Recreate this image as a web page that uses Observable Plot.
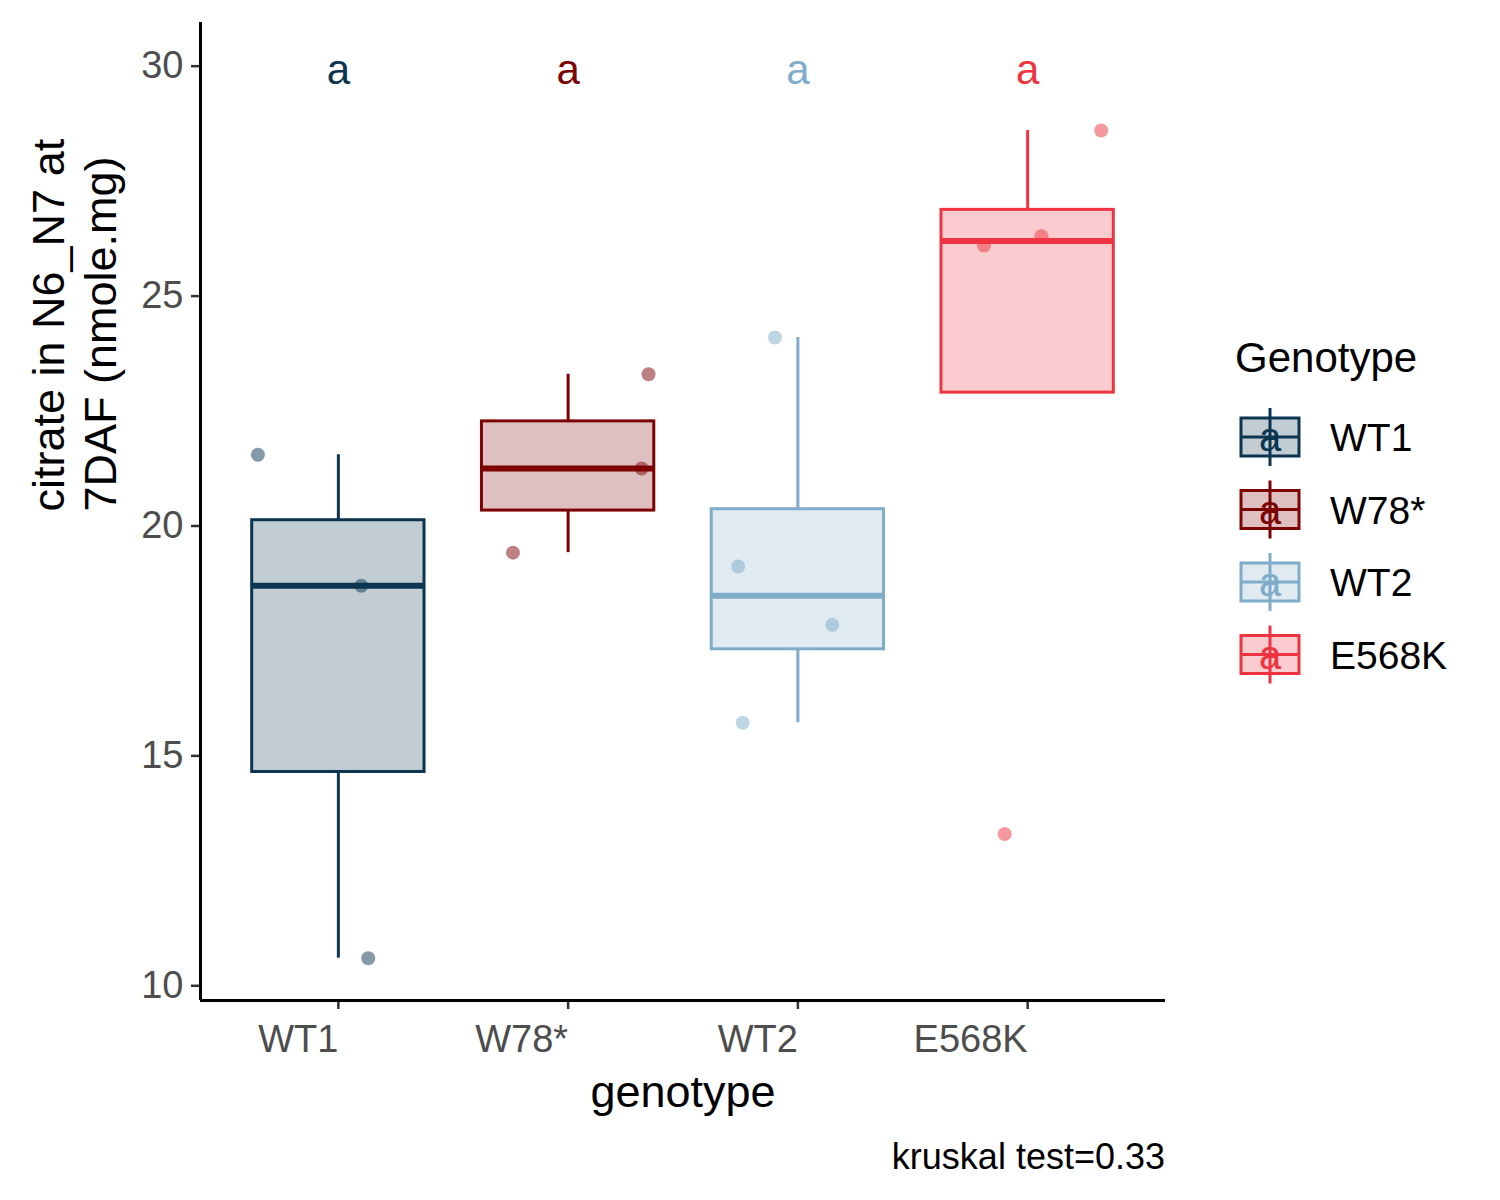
<!DOCTYPE html>
<html><head><meta charset="utf-8">
<script src="https://cdn.jsdelivr.net/npm/d3@7"></script>
<script src="https://cdn.jsdelivr.net/npm/@observablehq/plot@0.6"></script>
<style>
body{margin:0;background:#fff;font-family:Arial,"Liberation Sans",sans-serif;}
#wrap{position:relative;width:1500px;height:1200px;}
#cap{position:absolute;left:0;width:1165px;text-align:right;top:1136px;font-size:36px;color:#000;}
#leg{position:absolute;left:1235px;top:330px;}
</style></head><body>
<div id="wrap"><div id="chart"></div><div id="leg"></div><div id="cap">kruskal test=0.33</div></div>
<script>
const genotypes = ["WT1","W78*","WT2","E568K"];
const colors = ["#0b3551","#7d0303","#7eacc9","#ee3440"];
const groupValues = [
  [21.55,18.7,10.6],
  [19.42,23.3,21.25],
  [19.12,15.72,24.1,17.85],
  [26.1,26.3,28.6,13.3]
];
const jitter = [
  [-0.35,0.1,0.13],
  [-0.24,0.35,0.32],
  [-0.26,-0.24,-0.1,0.15],
  [-0.19,0.06,0.32,-0.1]
];
const letters = ["a","a","a","a"];
const letterY = 29.9;
const yTicks = [10,15,20,25,30];

const pts = [];
groupValues.forEach((vs,i)=>vs.forEach((v,j)=>pts.push({g:genotypes[i],i,x:i+jitter[i][j],y:v})));
const stats = groupValues.map((vs,i)=>{
  const s=[...vs].sort(d3.ascending);
  const q1=d3.quantile(s,0.25),q2=d3.quantile(s,0.5),q3=d3.quantile(s,0.75),iqr=q3-q1;
  const lo=Math.min(q1,d3.min(s.filter(v=>v>=q1-1.5*iqr))),hi=Math.max(q3,d3.max(s.filter(v=>v<=q3+1.5*iqr)));
  return {g:genotypes[i],i,x1:i-0.375,x2:i+0.375,q1,q2,q3,lo,hi};
});
const cmap = Object.fromEntries(genotypes.map((g,i)=>[g,colors[i]]));

const plot = Plot.plot({
  width:1500,height:1200,
  marginLeft:200,marginRight:335,marginTop:22,marginBottom:200,
  style:{fontSize:"38px",fontFamily:"Arial, 'Liberation Sans', sans-serif",color:"#4d4d4d",background:"#fff"},
  x:{domain:[-0.6,3.6],ticks:[0,1,2,3],tickFormat:d=>genotypes[d],label:null},
  y:{domain:[9.68,30.95],ticks:yTicks,label:null},
  marks:[
    Plot.axisX({ticks:[0,1,2,3],tickFormat:d=>genotypes[d],tickSize:9,tickPadding:16,textAnchor:"end",stroke:"#333",strokeWidth:2.5,fill:"#4d4d4d",fontSize:38}),
    Plot.axisY({ticks:yTicks,tickSize:9,tickPadding:8,stroke:"#333",strokeWidth:2.5,fill:"#4d4d4d",fontSize:38}),
    Plot.ruleX([-0.6],{stroke:"#000",strokeWidth:3}),
    Plot.ruleY([9.68],{stroke:"#000",strokeWidth:3}),
    Plot.ruleX(stats,{x:"i",y1:"lo",y2:"q1",stroke:d=>cmap[d.g],strokeWidth:3}),
    Plot.ruleX(stats,{x:"i",y1:"q3",y2:"hi",stroke:d=>cmap[d.g],strokeWidth:3}),
    Plot.rect(stats,{x1:"x1",x2:"x2",y1:"q1",y2:"q3",fill:d=>cmap[d.g],fillOpacity:0.25,stroke:d=>cmap[d.g],strokeWidth:3}),
    Plot.ruleY(stats,{x1:"x1",x2:"x2",y:"q2",stroke:d=>cmap[d.g],strokeWidth:6}),
    Plot.dot(pts,{x:"x",y:"y",r:7,fill:d=>cmap[d.g],fillOpacity:0.5,stroke:"none"}),
    Plot.text(stats,{x:"i",y:()=>letterY,text:d=>letters[d.i],fill:d=>cmap[d.g],fontSize:42}),
    Plot.text(["citrate in N6_N7 at\n7DAF (nmole.mg)"],{frameAnchor:"left",dx:-127,rotate:-90,fontSize:45,fill:"#000",lineAnchor:"middle",lineHeight:1.15}),
    Plot.text(["genotype"],{frameAnchor:"bottom",dy:106,fontSize:45,fill:"#000"})
  ]
});
document.getElementById("chart").append(plot);

const leg = d3.select("#leg").append("svg").attr("width",260).attr("height",360)
  .style("font-family","Arial, 'Liberation Sans', sans-serif");
leg.append("text").attr("x",0).attr("y",42).attr("font-size",42).text("Genotype");
genotypes.forEach((g,i)=>{
  const cy=107+i*72.5, c=colors[i], gg=leg.append("g");
  gg.append("line").attr("x1",35).attr("x2",35).attr("y1",cy-29).attr("y2",cy+29).attr("stroke",c).attr("stroke-width",3);
  gg.append("rect").attr("x",6).attr("y",cy-19).attr("width",58).attr("height",38).attr("fill",c).attr("fill-opacity",0.25).attr("stroke",c).attr("stroke-width",3);
  gg.append("line").attr("x1",6).attr("x2",64).attr("y1",cy).attr("y2",cy).attr("stroke",c).attr("stroke-width",3);
  gg.append("text").attr("x",35).attr("y",cy+14).attr("text-anchor","middle").attr("font-size",40).attr("fill",c).text("a");
  gg.append("text").attr("x",95).attr("y",cy+14).attr("font-size",39).attr("fill","#000").text(g);
});
</script></body></html>
